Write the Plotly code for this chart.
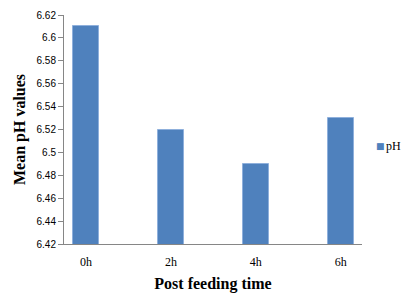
import plotly.graph_objects as go

categories = ["0h", "2h", "4h", "6h"]
series_name = "pH"
ph_values = [6.61, 6.52, 6.49, 6.53]
y_ticks = [6.42, 6.44, 6.46, 6.48, 6.5, 6.52, 6.54, 6.56, 6.58, 6.6, 6.62]
y_tick_labels = ["6.42", "6.44", "6.46", "6.48", "6.5", "6.52", "6.54", "6.56", "6.58", "6.6", "6.62"]

bar_color = "#4f81bd"

fig = go.Figure()
fig.add_trace(go.Bar(
    x=list(range(len(categories))), y=ph_values, name=series_name,
    width=0.3, marker=dict(color=bar_color, line=dict(color="#8fb0dc", width=1)),
    showlegend=False,
))

# legend drawn as text: coloured square + series name
fig.add_annotation(
    xref="paper", yref="paper", x=1.042, y=0.43, xanchor="left", yanchor="middle",
    text="■", showarrow=False, borderpad=0,
    font=dict(family="DejaVu Sans", size=9, color=bar_color),
)
fig.add_annotation(
    xref="paper", yref="paper", x=1.076, y=0.43, xanchor="left", yanchor="middle",
    text=series_name, showarrow=False, borderpad=0,
    font=dict(family="Liberation Serif", size=12, color="black"),
)

# page body has an 8px default margin; size the figure so the page needs no scrollbar
fig.update_layout(
    width=402, height=285,
    margin=dict(l=56, r=48, t=7, b=49, autoexpand=False),
    paper_bgcolor="white", plot_bgcolor="white",
    bargap=0,
)
fig.update_xaxes(
    range=[-0.26, 3.25], tickvals=list(range(len(categories))), ticktext=categories,
    showline=True, linecolor="#868686", linewidth=1, showgrid=False, ticks="",
    tickfont=dict(family="Liberation Serif", size=12, color="black"),
    ticklabelstandoff=7,
    title=dict(text="<b>Post feeding time</b>", font=dict(family="Liberation Serif", size=16, color="black"), standoff=12),
    zeroline=False,
)
fig.update_yaxes(
    range=[6.42, 6.62], tickvals=y_ticks, ticktext=y_tick_labels,
    showline=True, linecolor="#868686", linewidth=1, showgrid=False,
    ticks="outside", ticklen=5, tickcolor="#868686",
    tickfont=dict(family="Liberation Sans", size=10, color="black"),
    title=dict(text="<b>Mean pH values</b>", font=dict(family="Liberation Serif", size=16, color="black"), standoff=6),
    zeroline=False,
)

fig.write_html("out.html")
